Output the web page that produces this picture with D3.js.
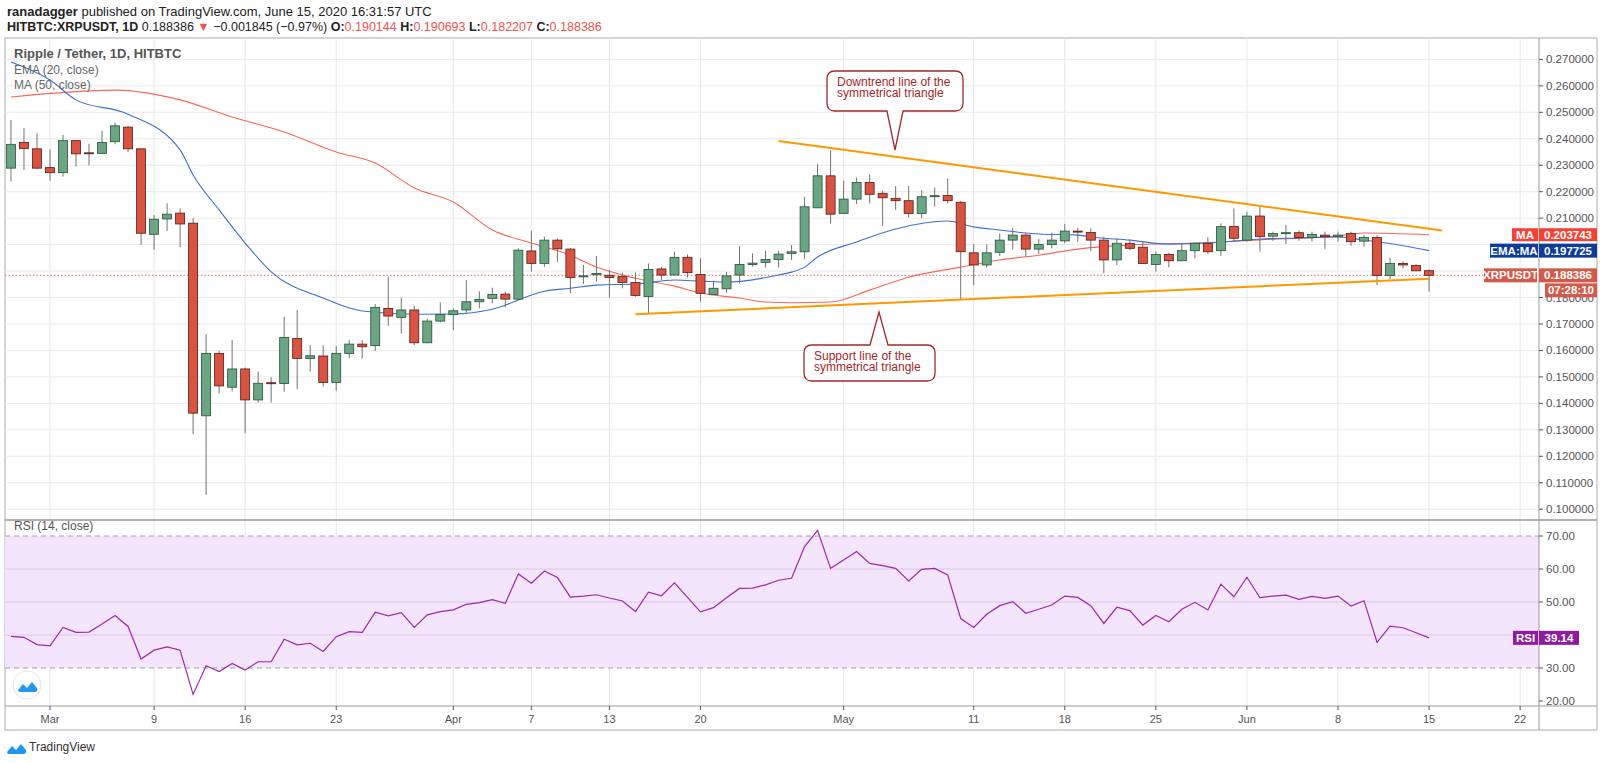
<!DOCTYPE html>
<html><head><meta charset="utf-8">
<script src="https://cdn.jsdelivr.net/npm/d3@7/dist/d3.min.js"></script>
<style>body{margin:0;background:#fff;}svg{display:block;font-family:"Liberation Sans",Arial,sans-serif;}</style>
</head><body><svg id="c" width="1600" height="763"></svg>
<script>
const startDate = "2020-02-27";
const opens = [.2289,.2386,.2362,.2291,.2272,.2393,.2347,.2345,.2389,.2444,.2362,.2039,.2097,.2119,.2081,.1353,.1589,.1461,.1530,.1413,.1478,.1475,.1645,.1570,.1579,.1479,.1589,.1624,.1618,.1759,.1725,.1753,.1629,.1711,
.1736,.1753,.1784,.1797,.1813,.1794,.1976,.1929,.2017,.1983,.1879,.1886,.1884,.1879,.1857,.1804,.1908,.1885,.1952,.1887,.1812,.1833,.1885,.1925,.1933,.1944,.1967,.1973,.2139,.2260,
.2118,.2172,.2235,.2194,.2175,.2166,.2118,.2181,.2186,.2160,.1969,.1923,.1971,.2017,.2036,.1983,.2000,.2014,.2051,.2046,.2017,.1942,.2005,.1990,.1925,.1963,.1939,.1977,.2005,.1977,.2068,
.2017,.2108,.2032,.2045,.2045,.2027,.2036,.2030,.2042,.2013,.2027,.1883,.1929,.1921,.190144];
const highs = [.2471,.2440,.2421,.2360,.2415,.2393,.2381,.2431,.2461,.2449,.2362,.2112,.2156,.2137,.2100,.1662,.1599,.1640,.1535,.1520,.1499,.1727,.1753,.1620,.1620,.1617,.1639,.1639,.1775,.1879,.1799,.1768,.1719,.1782,
.1759,.1866,.1824,.1837,.1822,.1986,.2051,.2030,.2023,.1988,.1923,.1957,.1904,.1894,.1895,.1929,.1916,.1973,.1963,.1948,.1864,.1897,.1994,.1967,.1977,.1977,.1998,.2181,.2304,.2357,
.2242,.2254,.2265,.2204,.2221,.2221,.2206,.2216,.2250,.2165,.2002,.2001,.2042,.2064,.2045,.2021,.2045,.2078,.2064,.2061,.2030,.2024,.2020,.2011,.1973,.1970,.2005,.2007,.2028,.2080,.2137,
.2124,.2146,.2049,.2074,.2053,.2049,.2049,.2049,.2049,.2036,.2036,.1950,.1936,.1926,.190693];
const lows = [.2238,.2282,.2285,.2242,.2257,.2295,.2299,.2345,.2379,.2349,.1999,.1980,.2052,.1990,.1284,.1054,.1438,.1445,.1287,.1403,.1403,.1444,.1453,.1520,.1463,.1448,.1570,.1570,.1598,.1693,.1664,.1620,.1627,.1706,
.1677,.1743,.1759,.1778,.1763,.1790,.1898,.1916,.1935,.1816,.1851,.1860,.1800,.1835,.1803,.1737,.1866,.1885,.1876,.1784,.1812,.1818,.1853,.1917,.1914,.1914,.1942,.1945,.2139,.2080,
.2118,.2153,.2156,.2071,.2131,.2103,.2099,.2143,.2156,.1790,.1847,.1913,.1957,.1982,.1954,.1964,.1986,.2005,.2011,.1976,.1891,.1923,.1979,.1927,.1898,.1914,.1939,.1948,.1964,.1957,.2014,
.2011,.1973,.2014,.2002,.2014,.2011,.1983,.2011,.1996,.1992,.1847,.1869,.1910,.1901,.182207];
const closes = [.2379,.2363,.2289,.2272,.2393,.2343,.2345,.2386,.2449,.2362,.2043,.2096,.2115,.2078,.1363,.1589,.1466,.1530,.1413,.1476,.1476,.1649,.1570,.1580,.1479,.1589,.1624,.1614,.1763,.1730,.1753,.1629,.1711,.1736,
.1750,.1784,.1793,.1812,.1794,.1979,.1929,.2017,.1984,.1876,.1882,.1891,.1876,.1857,.1808,.1906,.1885,.1952,.1894,.1816,.1835,.1882,.1925,.1930,.1944,.1964,.1973,.2143,.2260,.2115,
.2172,.2235,.2190,.2177,.2166,.2118,.2181,.2185,.2166,.1973,.1923,.1969,.2017,.2036,.1983,.2000,.2017,.2051,.2049,.2017,.1942,.2005,.1986,.1929,.1963,.1939,.1977,.2005,.1973,.2068,.2024,
.2108,.2030,.2042,.2045,.2027,.2038,.2030,.2036,.2011,.2027,.1883,.1929,.1923,.1901,.188386];
const rsi = [39.6,39.3,37.1,36.7,42.3,40.8,40.9,43.3,45.9,42.6,32.7,35.4,36.4,35.4,22.0,30.7,28.9,31.4,29.4,31.9,31.9,38.7,37.0,37.5,35.0,39.5,41.0,40.8,46.9,45.8,46.8,42.3,46.1,47.1,
47.6,49.3,49.8,50.7,49.6,58.5,55.7,59.4,57.4,51.5,51.8,52.2,51.2,50.3,47.1,53.0,51.9,55.8,51.4,47.0,48.3,51.3,54.1,54.2,55.2,56.6,57.2,66.8,71.7,60.2,
62.7,65.3,61.7,61.0,60.2,56.4,59.9,60.2,58.2,45.0,42.3,46.3,48.9,50.1,46.6,47.8,49.1,51.8,51.4,48.9,43.5,48.4,47.4,43.0,45.9,44.0,47.8,49.9,47.6,55.4,51.6,
57.5,51.3,51.8,52.1,50.8,51.7,51.1,51.8,48.8,50.4,37.8,42.7,42.2,40.7,39.14];
const ema20 = [["2020-02-27",.2690],["2020-03-01",.2622],["2020-03-03",.2547],["2020-03-07",.2493],["2020-03-11",.2358],["2020-03-12",.2263],["2020-03-14",.2131],["2020-03-16",.2006],["2020-03-18",.1897],["2020-03-22",.1798],["2020-03-25",.1749],["2020-03-29",.1737],["2020-04-01",.1738],["2020-04-04",.1756],["2020-04-08",.1824],["2020-04-10",.1835],["2020-04-12",.1847],["2020-04-15",.1851],["2020-04-18",.1866],["2020-04-20",.1862],["2020-04-22",.1858],["2020-04-26",.1885],["2020-04-27",.1896],["2020-04-28",.1915],["2020-04-29",.1953],["2020-05-02",.2010],["2020-05-05",.2059],["2020-05-09",.2089],["2020-05-11",.2067],["2020-05-13",.2055],["2020-05-16",.2040],["2020-05-19",.2036],["2020-05-20",.2029],["2020-05-23",.2017],["2020-05-26",.2002],["2020-05-29",.2006],["2020-05-31",.2013],["2020-06-02",.2021],["2020-06-05",.2025],["2020-06-08",.2029],["2020-06-10",.2017],["2020-06-13",.1996],["2020-06-15",.197725]];
const ma50 = [["2020-02-27",.2558],["2020-03-06",.2584],["2020-03-11",.2547],["2020-03-15",.2482],["2020-03-19",.2426],["2020-03-23",.2350],["2020-03-26",.2308],["2020-03-29",.2214],["2020-04-01",.2161],["2020-04-04",.2055],["2020-04-07",.2006],["2020-04-10",.1960],["2020-04-12",.1915],["2020-04-15",.1873],["2020-04-18",.1843],["2020-04-20",.1817],["2020-04-23",.1798],["2020-04-25",.1783],["2020-04-27",.1780],["2020-04-30",.1783],["2020-05-03",.1828],["2020-05-06",.1877],["2020-05-10",.1915],["2020-05-13",.1942],["2020-05-16",.1960],["2020-05-19",.1983],["2020-05-23",.1999],["2020-05-28",.2006],["2020-05-30",.2010],["2020-06-02",.2018],["2020-06-08",.2033],["2020-06-10",.2044],["2020-06-15",.203743]];
const downtrend = [["2020-04-26",.2392],["2020-06-16",.2053]];
const support = [["2020-04-15",.1737],["2020-06-15",.1871]];
const priceTicks = [.10,.11,.12,.13,.14,.15,.16,.17,.18,.21,.22,.23,.24,.25,.26,.27];
const priceGrid = [.10,.11,.12,.13,.14,.15,.16,.17,.18,.19,.20,.21,.22,.23,.24,.25,.26,.27];
const rsiTicks = [70,60,50,30,20];
const xTicks = [["2020-03-01","Mar"],["2020-03-09","9"],["2020-03-16","16"],["2020-03-23","23"],["2020-04-01","Apr"],["2020-04-07","7"],["2020-04-13","13"],["2020-04-20","20"],["2020-05-01","May"],["2020-05-11","11"],["2020-05-18","18"],["2020-05-25","25"],["2020-06-01","Jun"],["2020-06-08","8"],["2020-06-15","15"],["2020-06-22","22"]];

const P = d3.utcParse("%Y-%m-%d");
const s0 = P(startDate);
const dates = opens.map((_,i)=>d3.utcDay.offset(s0,i));
const svg = d3.select("#c");
const L=5, R=1539, PT=38, PB=520, RT=520, RB=706;
const x = d3.scaleUtc().domain([P("2020-03-01"),P("2020-06-22")]).range([50,50+113*13.01]);
const y = d3.scaleLinear().domain([0.10,0.27]).range([509.2,59.4]);
const yr = d3.scaleLinear().domain([30,70]).range([668,536]);

const defs = svg.append("defs");
defs.append("clipPath").attr("id","cp").append("rect").attr("x",L).attr("y",PT).attr("width",R-L).attr("height",PB-PT);
defs.append("clipPath").attr("id","cr").append("rect").attr("x",L).attr("y",RT).attr("width",R-L).attr("height",RB-RT);

const h1 = svg.append("text").attr("x",7).attr("y",16).attr("font-size",13).attr("fill","#222");
h1.append("tspan").attr("font-weight","bold").text("ranadagger");
h1.append("tspan").text(" published on TradingView.com, June 15, 2020 16:31:57 UTC");
const h2 = svg.append("text").attr("x",7).attr("y",31).attr("font-size",12.5).attr("fill","#222");
h2.append("tspan").attr("font-weight","bold").text("HITBTC:XRPUSDT, 1D");
h2.append("tspan").text(" 0.188386 ");
h2.append("tspan").attr("fill","#ef5350").text("▼");
h2.append("tspan").text(" −0.001845 (−0.97%) ");
[["O:","0.190144"],["H:","0.190693"],["L:","0.182207"],["C:","0.188386"]].forEach(([k,v])=>{
  h2.append("tspan").attr("font-weight","bold").text(k);
  h2.append("tspan").attr("fill","#ef5350").text(v+" ");
});

svg.append("rect").attr("x",L).attr("y",PT).attr("width",1592).attr("height",730-PT).attr("fill","none").attr("stroke","#aaa");

const g = svg.append("g");
xTicks.forEach(([d])=>{
  g.append("line").attr("x1",x(P(d))).attr("x2",x(P(d))).attr("y1",PT).attr("y2",RB).attr("stroke","#e6e6e6");
});
priceGrid.forEach(v=>{
  g.append("line").attr("x1",L).attr("x2",R).attr("y1",y(v)).attr("y2",y(v)).attr("stroke","#eaeaea");
});

const rg = svg.append("g").attr("clip-path","url(#cr)");
rg.append("rect").attr("x",L).attr("width",R-L).attr("y",yr(70)).attr("height",yr(30)-yr(70)).attr("fill","#f3e5fc");
[60,50,40].forEach(v=>rg.append("line").attr("x1",L).attr("x2",R).attr("y1",yr(v)).attr("y2",yr(v)).attr("stroke","#dcc8e6"));
[70,30].forEach(v=>rg.append("line").attr("x1",L).attr("x2",R).attr("y1",yr(v)).attr("y2",yr(v)).attr("stroke","#a99aae").attr("stroke-dasharray","5,4"));
rg.append("path").datum(rsi).attr("fill","none").attr("stroke","#9c27b0").attr("stroke-width",1.2)
  .attr("d",d3.line().x((d,i)=>x(dates[i])).y(d=>yr(d)));
svg.append("text").attr("x",14).attr("y",530).attr("font-size",12).attr("fill","#555").text("RSI (14, close)");
svg.append("circle").attr("cx",27).attr("cy",685).attr("r",14).attr("fill","#fff").attr("stroke","#e4e4e4");
svg.append("path").attr("d","M18,690 l5,-6 l4,4 l5,-6 l5,6 a3,3 0 0 1 -2,4 h-15 a2,2 0 0 1 -2,-2z").attr("fill","#2196f3");

svg.append("line").attr("x1",L).attr("x2",1597).attr("y1",PB).attr("y2",PB).attr("stroke","#b0b0b0").attr("stroke-width",2);
svg.append("line").attr("x1",L).attr("x2",1597).attr("y1",RB).attr("y2",RB).attr("stroke","#999");
svg.append("line").attr("x1",R).attr("x2",R).attr("y1",PT).attr("y2",730).attr("stroke","#999");
xTicks.forEach(([d,l])=>{
  svg.append("line").attr("x1",x(P(d))).attr("x2",x(P(d))).attr("y1",RB).attr("y2",RB+4).attr("stroke","#555");
  svg.append("text").attr("x",x(P(d))).attr("y",723).attr("text-anchor","middle").attr("font-size",11).attr("fill","#555").text(l);
});
priceGrid.forEach(v=>svg.append("line").attr("x1",R).attr("x2",R+4).attr("y1",y(v)).attr("y2",y(v)).attr("stroke","#555"));
priceTicks.forEach(v=>{
  svg.append("text").attr("x",R+7).attr("y",y(v)+4).attr("font-size",11.5).attr("fill","#555").text(v.toFixed(6));
});
rsiTicks.forEach(v=>{
  svg.append("line").attr("x1",R).attr("x2",R+4).attr("y1",yr(v)).attr("y2",yr(v)).attr("stroke","#555");
  svg.append("text").attr("x",R+7).attr("y",yr(v)+4).attr("font-size",11.5).attr("fill","#555").text(v.toFixed(2));
});

const pg = svg.append("g").attr("clip-path","url(#cp)");
const last = closes[closes.length-1];
pg.append("line").attr("x1",L).attr("x2",R).attr("y1",y(last)).attr("y2",y(last)).attr("stroke","#e57368").attr("stroke-dasharray","1.5,2");
const lineGen = d3.line().x(d=>x(P(d[0]))).y(d=>y(d[1])).curve(d3.curveMonotoneX);
pg.append("path").datum(ma50).attr("fill","none").attr("stroke","#f7675b").attr("stroke-width",1.1).attr("d",lineGen);
pg.append("path").datum(ema20).attr("fill","none").attr("stroke","#3f6fd0").attr("stroke-width",1.1).attr("d",lineGen);
const bw = 9;
dates.forEach((d,i)=>{
  const up = closes[i]>=opens[i], cx = x(d);
  pg.append("line").attr("x1",cx).attr("x2",cx).attr("y1",y(highs[i])).attr("y2",y(lows[i])).attr("stroke","#737375");
  const top = y(Math.max(opens[i],closes[i])), bot = y(Math.min(opens[i],closes[i]));
  pg.append("rect").attr("x",cx-bw/2).attr("width",bw).attr("y",top).attr("height",Math.max(1,bot-top))
    .attr("fill",up?"#6ba583":"#d75442").attr("stroke",up?"#225437":"#5b1a13").attr("stroke-width",0.8);
});
const tl = d3.line().x(d=>x(P(d[0]))).y(d=>y(d[1]));
pg.append("path").datum(downtrend).attr("stroke","#ff9800").attr("stroke-width",2).attr("fill","none").attr("d",tl);
pg.append("path").datum(support).attr("stroke","#ff9800").attr("stroke-width",2).attr("fill","none").attr("d",tl);

svg.append("text").attr("x",14).attr("y",58).attr("font-size",13).attr("font-weight","bold").attr("fill","#555").text("Ripple / Tether, 1D, HITBTC");
svg.append("text").attr("x",14).attr("y",74).attr("font-size",12).attr("fill","#666").text("EMA (20, close)");
svg.append("text").attr("x",14).attr("y",89).attr("font-size",12).attr("fill","#666").text("MA (50, close)");

function callout(x0,y0,x1,y1,pa,pb,ax,ay,lines,down){
  const r=8;
  let d;
  if(down){
    d=`M${x0+r},${y0} H${x1-r} Q${x1},${y0} ${x1},${y0+r} V${y1-r} Q${x1},${y1} ${x1-r},${y1} H${pb} L${ax},${ay} L${pa},${y1} H${x0+r} Q${x0},${y1} ${x0},${y1-r} V${y0+r} Q${x0},${y0} ${x0+r},${y0}Z`;
  } else {
    d=`M${x0+r},${y0} H${pa} L${ax},${ay} L${pb},${y0} H${x1-r} Q${x1},${y0} ${x1},${y0+r} V${y1-r} Q${x1},${y1} ${x1-r},${y1} H${x0+r} Q${x0},${y1} ${x0},${y1-r} V${y0+r} Q${x0},${y0} ${x0+r},${y0}Z`;
  }
  svg.append("path").attr("d",d).attr("fill","#fff").attr("stroke","#a3282b").attr("stroke-width",1.3);
  lines.forEach((t,i)=>svg.append("text").attr("x",x0+10).attr("y",y0+15+i*11).attr("font-size",12).attr("fill","#a3282b").text(t));
}
callout(827,71,963,111,887,903,895,150,["Downtrend line of the","symmetrical triangle"],true);
callout(804,345,935,381,870,888,879,312,["Support line of the","symmetrical triangle"],false);

function tag(x0,w,yc,h,fill,txt){
  svg.append("rect").attr("x",x0).attr("y",yc-h/2).attr("width",w).attr("height",h).attr("fill",fill);
  svg.append("text").attr("x",x0+w/2).attr("y",yc+4).attr("text-anchor","middle").attr("font-size",11.5).attr("font-weight","bold").attr("fill","#fff").text(txt);
}
tag(1512,26,y(.203743),13,"#f44336","MA");
tag(1539,58,y(.203743),13,"#f44336","0.203743");
tag(1490,48,y(.197725),14,"#0d3c9a","EMA:MA");
tag(1539,58,y(.197725),14,"#0d3c9a","0.197725");
tag(1484,53,y(last),14,"#d35a4a","XRPUSDT");
tag(1539,58,y(last),14,"#d35a4a","0.188386");
tag(1545,52,y(last)+15,14,"#d35a4a","07:28:10");
tag(1513,25,yr(39.14),14,"#8e1aa0","RSI");
tag(1539,40,yr(39.14),14,"#8e1aa0","39.14");

svg.append("path").attr("d","M7,752 l5,-6 l4,4 l5,-6 l5,6 a3,3 0 0 1 -2,4 h-15 a2,2 0 0 1 -2,-2z").attr("fill","#2196f3");
svg.append("text").attr("x",29).attr("y",751).attr("font-size",12).attr("fill","#333").text("TradingView");
</script></body></html>
